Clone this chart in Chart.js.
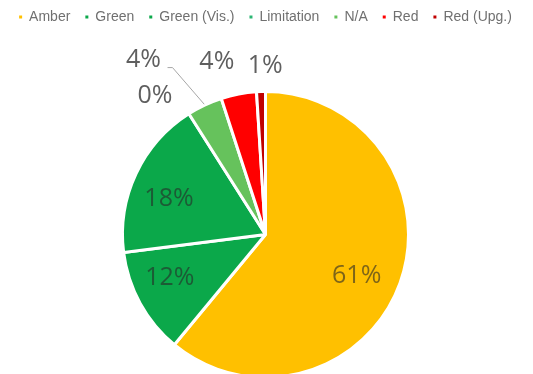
<!DOCTYPE html>
<html lang="en">
<head>
    <meta charset="UTF-8">
    <title>Status Split</title>
    <script src="https://cdn.jsdelivr.net/npm/chart.js@4.4.8/dist/chart.umd.min.js"></script>
    <style>
        html, body {
            margin: 0;
            background: #ffffff;
            overflow: hidden;
        }
        #wrap {
            position: absolute;
            left: 0;
            top: -5px;
            width: 533px;
            height: 384px;
        }
    </style>
</head>
<body>

<div id="wrap"><canvas id="pie"></canvas></div>

<script>

    const statuses = ['Amber', 'Green', 'Green (Vis.)', 'Limitation', 'N/A', 'Red', 'Red (Upg.)']
    const shares = [61, 12, 18, 0, 4, 4, 1]
    const pctLabels = ['61%', '12%', '18%', '0%', '4%', '4%', '1%']
    const colours = ['#FFC000', '#0BA84A', '#0BA84A', '#2BB673', '#66C25C', '#FF0000', '#C00000']

    // label placement: inside ones sit on the slice bisector, outside ones just past the rim
    const labelSide = ['in', 'in', 'in', 'out', 'out', 'out', 'out']
    const labelNudge = [[-5, 7], [-6, -6], [-4, 8], [-20, 4], [-50, -22], [-17, -7], [5, 0]]

    // push the pie down below the legend
    const legendGap = {
        id: 'legendGap',
        beforeInit(chart) {
            const fit = chart.legend.fit
            chart.legend.fit = function () {
                fit.bind(chart.legend)()
                this.height += 56
            }
        }
    }

    const sliceLabels = {
        id: 'sliceLabels',
        afterDatasetsDraw(chart) {
            const ctx = chart.ctx
            const arcs = chart.getDatasetMeta(0).data
            ctx.save()
            ctx.font = '25px "Open Sans"'
            ctx.textAlign = 'center'
            ctx.textBaseline = 'middle'
            arcs.forEach((arc, i) => {
                const p = arc.getProps(['x', 'y', 'startAngle', 'endAngle', 'outerRadius'], true)
                const mid = (p.startAngle + p.endAngle) / 2
                const r = labelSide[i] === 'in' ? p.outerRadius * 0.715 : p.outerRadius + 26
                const lx = p.x + Math.cos(mid) * r + labelNudge[i][0]
                const ly = p.y + Math.sin(mid) * r + labelNudge[i][1]

                if (labelNudge[i][0] < -40) {
                    // leader line back to the slice rim
                    const ex = p.x + Math.cos(mid) * (p.outerRadius + 1)
                    const ey = p.y + Math.sin(mid) * (p.outerRadius + 1)
                    ctx.strokeStyle = '#a6a6a6'
                    ctx.lineWidth = 1
                    ctx.beginPath()
                    ctx.moveTo(ex, ey)
                    ctx.lineTo(lx + 29, ly + 8)
                    ctx.lineTo(lx + 24, ly + 8)
                    ctx.stroke()
                }

                ctx.fillStyle = labelSide[i] === 'in' ? 'rgba(40,40,40,0.6)' : '#5f5f5f'
                ctx.fillText(pctLabels[i], lx, ly)
            })
            ctx.restore()
        }
    }

    const chart = new Chart(document.getElementById('pie'), {
        type: 'pie',
        data: {
            labels: statuses,
            datasets: [{
                data: shares,
                backgroundColor: colours,
                borderColor: '#ffffff',
                borderWidth: 3,
                hoverOffset: 0
            }]
        },
        options: {
            responsive: true,
            maintainAspectRatio: false,
            animation: false,
            layout: { padding: { right: 2 } },
            plugins: {
                legend: {
                    position: 'top',
                    labels: {
                        usePointStyle: true,
                        pointStyle: 'rect',
                        boxWidth: 3,
                        boxHeight: 3,
                        padding: 15,
                        color: '#707070',
                        font: { family: '"Liberation Sans"', size: 14 },
                        // no white slice border around the little legend squares
                        generateLabels(c) {
                            const items = Chart.overrides.pie.plugins.legend.labels.generateLabels(c)
                            items.forEach(it => { it.lineWidth = 0; it.strokeStyle = it.fillStyle })
                            return items
                        }
                    }
                },
                tooltip: { enabled: false }
            }
        },
        plugins: [legendGap, sliceLabels]
    })

</script>
</body>
</html>
